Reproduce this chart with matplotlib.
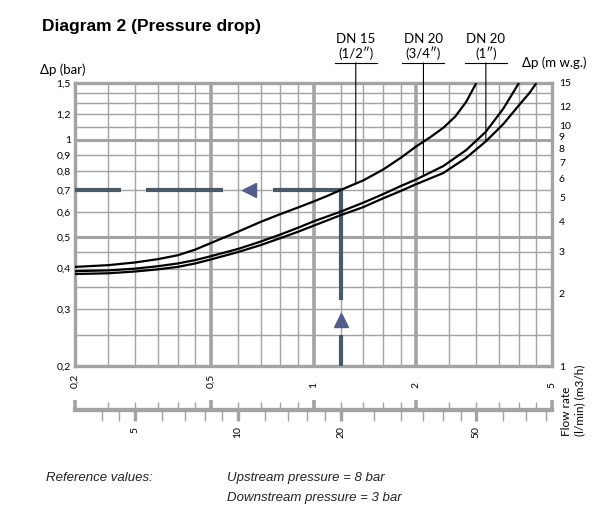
import numpy as np
import matplotlib.pyplot as plt

plt.rcParams['font.family'] = ['Lato', 'DejaVu Sans']

# pressure drop curves: flow rate (m3/h) vs pressure drop (bar)
q_dn15 = [0.2, 0.25, 0.3, 0.35, 0.4, 0.45, 0.5, 0.6, 0.7, 0.8, 0.9, 1.0, 1.1, 1.2,
          1.4, 1.6, 1.8, 2.0, 2.2, 2.4, 2.6, 2.8, 3.0]
dp_dn15 = [0.405, 0.41, 0.418, 0.428, 0.44, 0.458, 0.48, 0.52, 0.558, 0.59, 0.618, 0.645,
           0.672, 0.70, 0.75, 0.81, 0.88, 0.955, 1.02, 1.09, 1.18, 1.31, 1.5]

q_dn20 = [0.2, 0.25, 0.3, 0.35, 0.4, 0.45, 0.5, 0.6, 0.7, 0.8, 0.9, 1.0, 1.2, 1.4,
          1.6, 1.8, 2.0, 2.4, 2.8, 3.2, 3.6, 4.0]
dp_dn20 = [0.393, 0.395, 0.40, 0.407, 0.415, 0.425, 0.437, 0.46, 0.485, 0.51, 0.535, 0.56,
           0.60, 0.64, 0.68, 0.72, 0.755, 0.83, 0.93, 1.06, 1.25, 1.5]

q_dn20b = [0.2, 0.25, 0.3, 0.35, 0.4, 0.45, 0.5, 0.6, 0.7, 0.8, 0.9, 1.0, 1.2, 1.4,
           1.6, 1.8, 2.0, 2.4, 2.8, 3.2, 3.6, 4.0, 4.3, 4.5]
dp_dn20b = [0.385, 0.387, 0.392, 0.398, 0.405, 0.415, 0.427, 0.45, 0.473, 0.497, 0.52, 0.543,
            0.585, 0.62, 0.66, 0.695, 0.73, 0.79, 0.88, 0.99, 1.12, 1.28, 1.4, 1.5]

curve_labels = ["DN 15\n(1/2″)", "DN 20\n(3/4″)", "DN 20\n(1″)"]
leader_q = [1.33, 2.1, 3.2]

x_ticks = [0.2, 0.5, 1, 2, 5]
x_ticklabels = ["0,2", "0,5", "1", "2", "5"]
x_minor = [0.25, 0.3, 0.35, 0.4, 0.45, 0.6, 0.7, 0.8, 0.9,
           1.2, 1.4, 1.6, 1.8, 2.5, 3, 3.5, 4, 4.5]
x_major_grid = [0.5, 1, 2]

y_ticks = [0.2, 0.3, 0.4, 0.5, 0.6, 0.7, 0.8, 0.9, 1, 1.2, 1.5]
y_ticklabels = ["0,2", "0,3", "0,4", "0,5", "0,6", "0,7", "0,8", "0,9", "1", "1,2", "1,5"]
y_minor = [0.25, 0.3, 0.35, 0.4, 0.45, 0.6, 0.7, 0.8, 0.9, 1.1, 1.2, 1.3, 1.4]
y_major_grid = [0.5, 1]

mwg_ticks = [1, 2, 3, 4, 5, 6, 7, 8, 9, 10, 12, 15]
lmin_ticks = [5, 10, 20, 50]
lmin_minor = [4, 4.5, 6, 7, 8, 9, 12, 14, 16, 18, 25, 30, 35, 40, 45, 60, 70, 80]

# example reading: 20 l/min (1.2 m3/h) on DN 15 -> 0.7 bar
example_q = 1.2
example_dp = 0.7
h_dashes = [(0.2, 0.273), (0.323, 0.544), (0.76, example_q)]
h_arrow_q = 0.645
v_dashes = [(example_dp, 0.32), (0.249, 0.2)]
v_arrow_dp = 0.277

grid_c = '#a3a3a3'
guide_c = '#465a69'
arrow_c = '#525d8c'

W, H = 614, 513
fig = plt.figure(figsize=(W / 100, H / 100), dpi=100)
ax = fig.add_axes([75 / W, 1 - 366 / H, 477 / W, 283 / H])
ax.set_xscale('log')
ax.set_yscale('log')
ax.set_xlim(0.2, 5)
ax.set_ylim(0.2, 1.5)

for q in x_minor:
    ax.axvline(q, color=grid_c, lw=1.0, zorder=1)
for q in x_major_grid:
    ax.axvline(q, color=grid_c, lw=2.6, zorder=1)
for p in y_minor:
    ax.axhline(p, color=grid_c, lw=1.0, zorder=1)
for p in y_major_grid:
    ax.axhline(p, color=grid_c, lw=2.2, zorder=1)

for s in ax.spines.values():
    s.set_color(grid_c)
    s.set_linewidth(2.4)

curves = [(q_dn15, dp_dn15), (q_dn20, dp_dn20), (q_dn20b, dp_dn20b)]
for q, dp in curves:
    ax.plot(q, dp, color='black', lw=1.6, zorder=4, solid_capstyle='butt')

# guide for the example reading
for a, b in h_dashes:
    ax.plot([a, b], [example_dp, example_dp], color=guide_c, lw=3, zorder=3,
            solid_capstyle='butt')
ax.plot([h_arrow_q], [example_dp], marker='<', ms=10, color=arrow_c, zorder=3)
for a, b in v_dashes:
    ax.plot([example_q, example_q], [a, b], color=guide_c, lw=3, zorder=3,
            solid_capstyle='butt')
ax.plot([example_q], [v_arrow_dp], marker='^', ms=10, color=arrow_c, zorder=3)

# leader lines with size labels
lead_top = 1.071
half = 21 / 477
for (q, dp), lab, lq in zip(curves, curve_labels, leader_q):
    yv = np.exp(np.interp(np.log(lq), np.log(q), np.log(dp)))
    ax.annotate('', xy=(lq, yv), xycoords='data', xytext=(lq, lead_top),
                textcoords=('data', 'axes fraction'),
                arrowprops=dict(arrowstyle='-', lw=0.8, color='black',
                                shrinkA=0, shrinkB=0))
    xf = np.log10(lq / 0.2) / np.log10(25)
    ax.plot([xf - half, xf + half], [lead_top, lead_top], transform=ax.transAxes,
            color='black', lw=0.8, clip_on=False)
    ax.text(xf, lead_top + 0.012, lab, transform=ax.transAxes, ha='center',
            va='bottom', fontsize=9.5, linespacing=1.05)

ax.set_xticks(x_ticks, x_ticklabels)
ax.xaxis.set_minor_locator(plt.NullLocator())
ax.set_yticks(y_ticks, y_ticklabels)
ax.yaxis.set_minor_locator(plt.NullLocator())
ax.tick_params(axis='both', length=0, labelsize=7.5)
ax.tick_params(axis='y', pad=3)
ax.tick_params(axis='x', pad=16)
for t in ax.get_xticklabels():
    t.set_rotation(90)
    t.set_va('bottom')

# right axis in metres of water gauge
ax2 = ax.twinx()
ax2.set_yscale('log')
ax2.set_ylim(1, 15)
ax2.set_yticks(mwg_ticks, [str(v) for v in mwg_ticks])
ax2.yaxis.set_minor_locator(plt.NullLocator())
ax2.tick_params(axis='y', length=0, labelsize=7.5, pad=5)
for s in ax2.spines.values():
    s.set_visible(False)

# flow rate ruler: m3/h ticks up, l/min ticks down
ruler_pos = -0.155
ruler = ax.secondary_xaxis(ruler_pos, functions=(lambda x: x, lambda x: x))
ruler.set_xticks(x_ticks, [])
ruler.set_xticks(x_minor, minor=True)
ruler.xaxis.set_minor_formatter(plt.NullFormatter())
ruler.tick_params(which='both', direction='in', color=grid_c, labelbottom=False)
ruler.tick_params(which='major', length=7, width=2.6)
ruler.tick_params(which='minor', length=6, width=1.0)
for s in ruler.spines.values():
    s.set_color(grid_c)
    s.set_linewidth(3)

lmin = ax.secondary_xaxis(ruler_pos, functions=(lambda q: q * 1000 / 60,
                                                lambda l: l * 60 / 1000))
lmin.set_xticks(lmin_ticks, [str(v) for v in lmin_ticks])
lmin.set_xticks(lmin_minor, minor=True)
lmin.xaxis.set_minor_formatter(plt.NullFormatter())
lmin.tick_params(which='both', direction='out', color=grid_c, labelsize=7.5, pad=4)
lmin.tick_params(which='major', length=8, width=2.4)
lmin.tick_params(which='minor', length=8, width=1.0)
for t in lmin.get_xticklabels():
    t.set_rotation(90)
for s in lmin.spines.values():
    s.set_color(grid_c)
    s.set_linewidth(3)

fig.text(42 / W, 1 - 27 / H, "Diagram 2 (Pressure drop)", family='Liberation Sans',
         weight='bold', fontsize=12.5, va='center', ha='left')
fig.text(40 / W, 1 - 70 / H, "Δp (bar)", fontsize=9.5, va='center', ha='left')
fig.text(522 / W, 1 - 63 / H, "Δp (m w.g.)", fontsize=9.5, va='center', ha='left')
fig.text(566 / W, 1 - 436 / H, "Flow rate", fontsize=8.5, rotation=90,
         ha='center', va='bottom')
fig.text(580 / W, 1 - 436 / H, "(l/min) (m3/h)", fontsize=8.5, rotation=90,
         ha='center', va='bottom')

fig.text(46 / W, 1 - 478 / H, "Reference values:", family='Liberation Sans',
         style='italic', fontsize=9.5, va='center', color='#222222')
fig.text(227 / W, 1 - 478 / H, "Upstream pressure = 8 bar", family='Liberation Sans',
         style='italic', fontsize=9.5, va='center', color='#222222')
fig.text(227 / W, 1 - 498 / H, "Downstream pressure = 3 bar", family='Liberation Sans',
         style='italic', fontsize=9.5, va='center', color='#222222')

fig.savefig('out.png', dpi=100)
